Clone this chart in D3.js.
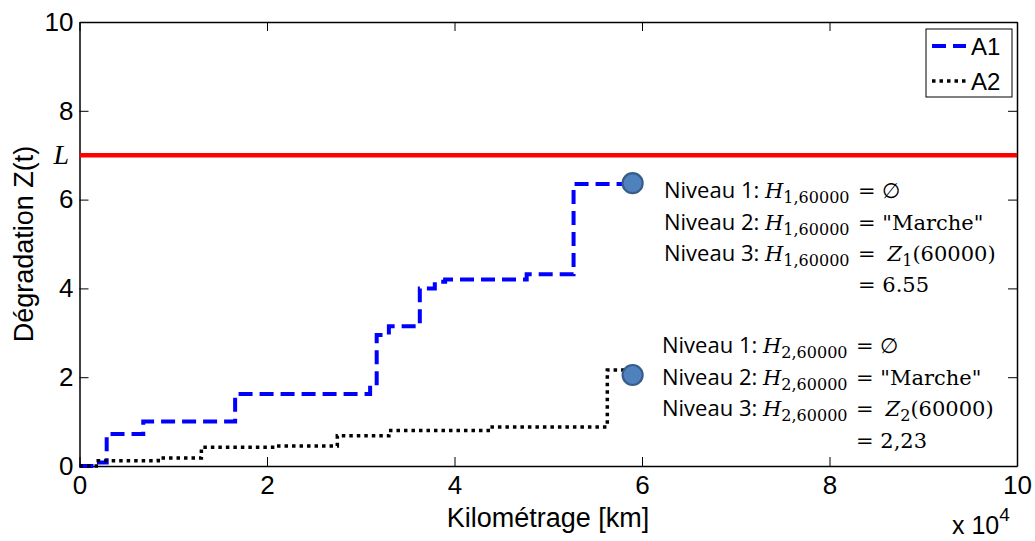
<!DOCTYPE html>
<html><head><meta charset="utf-8">
<script src="https://cdn.jsdelivr.net/npm/d3@7"></script>
<style>body{margin:0;background:#fff}</style>
</head><body>
<svg id="c" width="1035" height="541"></svg>
<script>
// ---- data ----
const xTicks = [0, 20000, 40000, 60000, 80000, 100000];
const yTicks = [0, 2, 4, 6, 8, 10];
const seriesNames = ["A1", "A2"];
const a1Km = [0, 1700, 2900, 6800, 16600, 31000, 31700, 33000, 36300, 37900, 39000, 47700, 52700, 59000];
const a1Z  = [0, 0.08, 0.72, 1.0, 1.62, 1.82, 2.95, 3.15, 4.0, 4.15, 4.2, 4.32, 6.35, 6.35];
const a2Km = [0, 2000, 8400, 13000, 21000, 27500, 33000, 43600, 56300, 57500, 59000];
const a2Z  = [0, 0.12, 0.18, 0.42, 0.45, 0.68, 0.8, 0.88, 2.16, 2.16, 2.12];
const limitL = 7;
const markerKm = [59000, 59000];
const markerZ = [6.37, 2.05];
const notes = [
  {idx:"1", value:"6.55"},
  {idx:"2", value:"2,23"}
];

const svg = d3.select("#c");
const x = d3.scaleLinear().domain([0, 100000]).range([79.5, 1017]);
const y = d3.scaleLinear().domain([0, 10]).range([466, 22]);

// axes (inward ticks, box)
const tl = 9;
svg.append("g").attr("transform", `translate(0,${y(0)})`)
  .call(d3.axisBottom(x).tickValues(xTicks).tickSizeInner(-tl).tickSizeOuter(0).tickFormat(d => d/10000))
  .call(g => g.selectAll("text").attr("dy", null).attr("y", 28));
svg.append("g").attr("transform", `translate(0,${y(10)})`)
  .call(d3.axisTop(x).tickValues(xTicks).tickSizeInner(-tl).tickSizeOuter(0).tickFormat(""));
svg.append("g").attr("transform", `translate(${x(0)},0)`)
  .call(d3.axisLeft(y).tickValues(yTicks).tickSizeInner(-tl).tickSizeOuter(0))
  .call(g => g.selectAll("text").attr("x", -6));
svg.append("g").attr("transform", `translate(${x(100000)},0)`)
  .call(d3.axisRight(y).tickValues(yTicks).tickSizeInner(-tl).tickSizeOuter(0).tickFormat(""));
svg.selectAll(".domain").attr("stroke", "#000").attr("stroke-width", 1.5);
svg.selectAll(".tick line").attr("stroke", "#000").attr("stroke-width", 1);
svg.selectAll(".tick text").attr("font-family", "Liberation Sans, Arial").attr("font-size", 26).attr("fill", "#000");

// limit line
svg.append("line").attr("x1", x(0)).attr("x2", x(100000)).attr("y1", y(limitL)).attr("y2", y(limitL))
  .attr("stroke", "#ff0000").attr("stroke-width", 4.5);
svg.append("text").attr("x", 69).attr("y", y(limitL) + 9).attr("text-anchor", "end")
  .attr("font-family", "Liberation Serif, serif").attr("font-style", "italic").attr("font-size", 28).text("L");

// step curves
const line = d3.line().x(d => x(d[0])).y(d => y(d[1])).curve(d3.curveStepAfter);
svg.append("path").datum(a1Km.map((k,i) => [k, a1Z[i]])).attr("d", line)
  .attr("fill", "none").attr("stroke", "#0000ff").attr("stroke-width", 4).attr("stroke-dasharray", "14,7");
svg.append("path").datum(a2Km.map((k,i) => [k, a2Z[i]])).attr("d", line)
  .attr("fill", "none").attr("stroke", "#000").attr("stroke-width", 3.5).attr("stroke-dasharray", "3.5,4");

// markers
svg.selectAll("circle.m").data(markerKm).enter().append("circle").attr("class", "m")
  .attr("cx", d => x(d)).attr("cy", (d,i) => y(markerZ[i])).attr("r", 10)
  .attr("fill", "#4f81bd").attr("stroke", "#385d8a").attr("stroke-width", 2.2);

// annotations
const blocks = [{x0:664, base:[198,230,261,292]}, {x0:662, base:[353,385,416,448]}];
notes.forEach((n, bi) => {
  const b = blocks[bi];
  const eqX = b.x0 + 194;
  [0,1,2].forEach(r => {
    svg.append("text").attr("x", b.x0).attr("y", b.base[r])
      .attr("font-family", "Open Sans, sans-serif").attr("font-size", 22).text(`Niveau ${r+1}:`);
    const t = svg.append("text").attr("x", b.x0 + 101).attr("y", b.base[r])
      .attr("font-family", "DejaVu Serif, serif").attr("font-size", 21);
    t.append("tspan").attr("font-style", "italic").text("H");
    t.append("tspan").attr("font-size", 16).attr("dy", 5).text(`${n.idx},60000`);
    const e = svg.append("text").attr("x", eqX).attr("y", b.base[r])
      .attr("font-family", "DejaVu Serif, serif").attr("font-size", 21);
    if (r === 0) e.text("= ∅");
    else if (r === 1) e.text("= \"Marche\"");
    else {
      e.append("tspan").text("=");
      e.append("tspan").attr("dx", 12).attr("font-style", "italic").text("Z");
      e.append("tspan").attr("font-size", 16).attr("dy", 5).text(n.idx);
      e.append("tspan").attr("dy", -5).text("(60000)");
    }
  });
  svg.append("text").attr("x", eqX).attr("y", b.base[3])
    .attr("font-family", "DejaVu Serif, serif").attr("font-size", 21).text(`= ${n.value}`);
});

// legend
const lg = svg.append("g");
lg.append("rect").attr("x", 926).attr("y", 29).attr("width", 86).attr("height", 68)
  .attr("fill", "#fff").attr("stroke", "#000").attr("stroke-width", 1);
const lstyles = [{c:"#0000ff", w:4, d:"14,7"}, {c:"#000", w:3.5, d:"3.5,4"}];
seriesNames.forEach((s, i) => {
  const yy = 46 + i * 35;
  lg.append("line").attr("x1", 932).attr("x2", 966).attr("y1", yy).attr("y2", yy)
    .attr("stroke", lstyles[i].c).attr("stroke-width", lstyles[i].w).attr("stroke-dasharray", lstyles[i].d);
  lg.append("text").attr("x", 971).attr("y", yy + 9).attr("font-family", "Liberation Sans, Arial")
    .attr("font-size", 24).text(s);
});

// axis labels
svg.append("text").attr("x", 548).attr("y", 527).attr("text-anchor", "middle")
  .attr("font-family", "Liberation Sans, Arial").attr("font-size", 27).text("Kilométrage [km]");
svg.append("text").attr("transform", "translate(33,244) rotate(-90)").attr("text-anchor", "middle")
  .attr("font-family", "Liberation Sans, Arial").attr("font-size", 27).text("Dégradation Z(t)");
const ex = svg.append("text").attr("x", 952).attr("y", 534)
  .attr("font-family", "Liberation Sans, Arial").attr("font-size", 25);
ex.append("tspan").text("x 10");
ex.append("tspan").attr("font-size", 19).attr("dy", -13).text("4");
</script>
</body></html>
